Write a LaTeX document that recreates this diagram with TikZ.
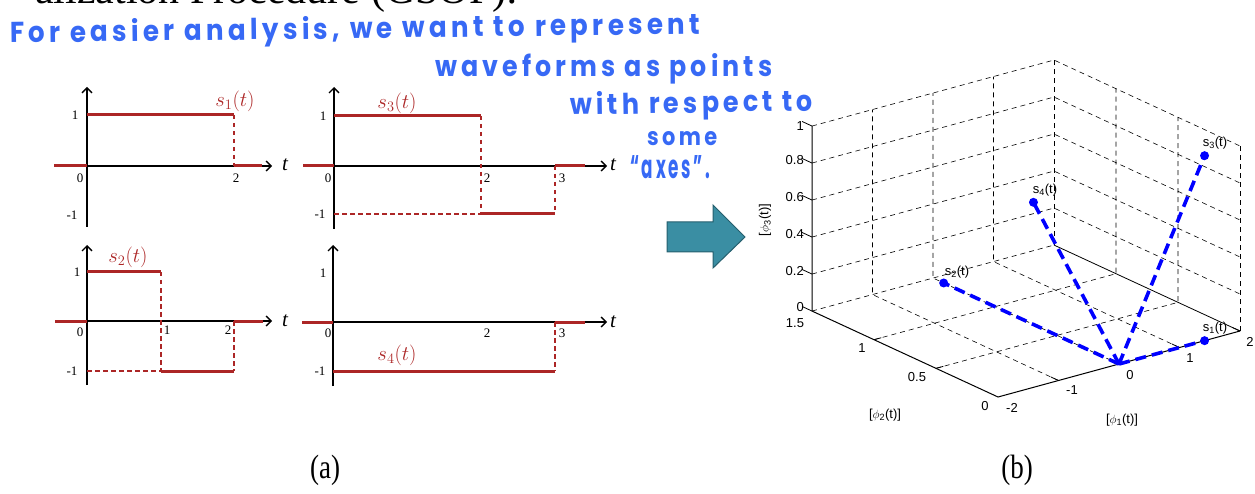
\documentclass[tikz,border=0pt]{standalone}
\usepackage{fontspec}
\setmainfont{Liberation Serif}
\newfontfamily\handfont[LetterSpace=16]{Poppins}
\newfontfamily\plotfont{Liberation Sans}
\usetikzlibrary{arrows.meta}
\definecolor{wred}{RGB}{172,38,38}
\definecolor{hblue}{RGB}{55,105,245}
\definecolor{arrfill}{RGB}{58,142,163}
\definecolor{arrline}{RGB}{38,95,110}
\tikzset{
 sig/.style={draw=wred, line width=3pt},
 sigdash/.style={draw=wred, line width=1.3pt, dash pattern=on 4.5pt off 3.5pt},
 axarrow/.style={line width=1.3pt, -{Straight Barb[length=5pt,width=10pt]}},
 ticklab/.style={font=\fontsize{13}{13}\selectfont, inner sep=0pt},
 siglab/.style={text=wred, font=\fontsize{21}{21}\selectfont, inner sep=0pt},
 tlab/.style={font=\fontsize{21}{21}\selectfont\itshape, inner sep=0pt},
 hand/.style={text=hblue, inner sep=0pt, anchor=base west, font=\handfont\bfseries},
 grid3/.style={line width=0.6pt, dash pattern=on 5pt off 4pt},
 bluevec/.style={blue, line width=3.6pt, dash pattern=on 11pt off 6pt},
 ptdot/.style={circle, fill=blue, inner sep=0pt, minimum size=9pt},
 plab/.style={font=\plotfont\fontsize{13}{13}\selectfont, inner sep=0pt},
 caplab/.style={font=\fontsize{27}{27}\selectfont, inner sep=0pt},
}
\begin{document}
\begin{tikzpicture}[x=1pt,y=-1pt]
\useasboundingbox (0,0) rectangle (1255,494);
\clip (0,0) rectangle (1255,494);
% clipped heading
\node[anchor=base west, inner sep=0pt, font=\fontsize{42}{42}\selectfont] (title) at (35,4) {alization Procedure (GSOP):};
% handwritten note
\node[hand, rotate=0.75] (h1) at (10,43) {\resizebox{690pt}{23pt}{For easier analysis, we want to represent}};
\node[hand] (h2) at (435,77) {\resizebox{337pt}{23pt}{waveforms as points}};
\node[hand, rotate=1.0] (h3) at (570,115) {\resizebox{243pt}{23pt}{with respect to}};
\node[hand] (h4) at (647,146) {\resizebox{70pt}{14pt}{some}};
\node[hand] (h5) at (630,179) {\resizebox{80pt}{23pt}{“axes”.}};

% ---------- s1 ----------
\draw[axarrow] (87,227) -- (87,87);
\draw[axarrow] (87,166) -- (272,166);
\draw[sig] (54,166) -- (87,166);
\draw[sig] (87,115) -- (234,115);
\draw[sig] (234,166) -- (262,166);
\draw[sigdash] (234,115) -- (234,166);
\node[ticklab] (a1y1) at (75,115) {1};
\node[ticklab] (a1y0) at (80,178) {0};
\node[ticklab] (a1x2) at (236,178) {2};
\node[ticklab] (a1ym) at (72,215) {-1};
\node[tlab] (a1t) at (285,165) {t};
\node[siglab] (a1s) at (235,101) {$s_1(t)$};

% ---------- s3 ----------
\draw[axarrow] (334,229) -- (334,87);
\draw[axarrow] (334,166) -- (607,166);
\draw[sig] (303,166) -- (334,166);
\draw[sig] (334,116) -- (481,116);
\draw[sig] (481,214) -- (555,214);
\draw[sig] (555,166) -- (585,166);
\draw[sigdash] (481,116) -- (481,214);
\draw[sigdash] (334,214) -- (481,214);
\draw[sigdash] (555,166) -- (555,214);
\node[ticklab] (a3y1) at (323,116) {1};
\node[ticklab] (a3y0) at (328,178) {0};
\node[ticklab] (a3x2) at (487,178) {2};
\node[ticklab] (a3x3) at (562,178) {3};
\node[ticklab] (a3ym) at (320,214) {-1};
\node[tlab] (a3t) at (613,165) {t};
\node[siglab] (a3s) at (397,103) {$s_3(t)$};

% ---------- s2 ----------
\draw[axarrow] (87,385) -- (87,245);
\draw[axarrow] (87,321) -- (272,321);
\draw[sig] (55,321) -- (87,321);
\draw[sig] (87,272) -- (161,272);
\draw[sig] (161,371) -- (234,371);
\draw[sig] (234,321) -- (263,321);
\draw[sigdash] (161,272) -- (161,371);
\draw[sigdash] (87,371) -- (161,371);
\draw[sigdash] (234,321) -- (234,371);
\node[ticklab] (a2y1) at (77,272) {1};
\node[ticklab] (a2y0) at (80,332) {0};
\node[ticklab] (a2x1) at (167,330) {1};
\node[ticklab] (a2x2) at (228,330) {2};
\node[ticklab] (a2ym) at (72,371) {-1};
\node[tlab] (a2t) at (285,321) {t};
\node[siglab] (a2s) at (128,257) {$s_2(t)$};

% ---------- s4 ----------
\draw[axarrow] (333,386) -- (333,245);
\draw[axarrow] (333,322) -- (607,322);
\draw[sig] (302,322) -- (333,322);
\draw[sig] (333,371) -- (555,371);
\draw[sig] (555,322) -- (585,322);
\draw[sigdash] (555,322) -- (555,371);
\node[ticklab] (a4y1) at (323,273) {1};
\node[ticklab] (a4y0) at (328,333) {0};
\node[ticklab] (a4x2) at (487,333) {2};
\node[ticklab] (a4x3) at (562,333) {3};
\node[ticklab] (a4ym) at (320,371) {-1};
\node[tlab] (a4t) at (613,322) {t};
\node[siglab] (a4s) at (397,355) {$s_4(t)$};

% ---------- block arrow ----------
\draw[fill=arrfill, draw=arrline, line width=1pt] (667,222) -- (713,222) -- (713,205) -- (745,237) -- (713,268) -- (713,252) -- (667,252) -- cycle;

% ---------- 3D plot ----------
\begin{scope}[shift={(1119pt,-364pt)}, x={(60.5pt,16.5pt)}, y={(-124pt,57.3pt)}, z={(0pt,185pt)}]
 \foreach \a in {-1,0,1} \draw[grid3] (\a,0,0) -- (\a,1.5,0) -- (\a,1.5,1);
 \foreach \b in {0.5,1} \draw[grid3] (-2,\b,0) -- (2,\b,0) -- (2,\b,1);
 \draw[grid3] (2,0,0) -- (2,0,1);
 \draw[grid3] (2,1.5,0) -- (2,1.5,1);
 \draw[grid3] (-2,1.5,0) -- (2,1.5,0);
 \foreach \c in {0.2,0.4,0.6,0.8,1} \draw[grid3] (-2,1.5,\c) -- (2,1.5,\c) -- (2,0,\c);
 \draw[line width=0.8pt] (2,1.5,0) -- (2,0,0);
 \draw[line width=1pt] (-2,1.5,1) -- (-2,1.5,0) -- (-2,0,0) -- (2,0,0);
 \foreach \c in {0,0.2,0.4,0.6,0.8,1} \draw[line width=0.8pt] (-2,1.5,\c) -- (-2,1.58,\c);
 \foreach \a in {-1,0,1,2} \draw[line width=0.8pt] (\a,0,0) -- (\a,0.06,0);
 \foreach \b in {0.5,1} \draw[line width=0.8pt] (-2,\b,0) -- (-1.88,\b,0);
 \coordinate (O) at (0,0,0);
 \node[ptdot] (d1) at (1.414,0,0) {};
 \node[ptdot] (d2) at (0,1.414,0) {};
 \node[ptdot] (d3) at (1.414,0,1) {};
 \node[ptdot] (d4) at (-1.414,0,1) {};
 \draw[bluevec] (O) -- (d1.center);
 \draw[bluevec] (O) -- (d2.center);
 \draw[bluevec] (O) -- (d3.center);
 \draw[bluevec] (O) -- (d4.center);
\end{scope}
% z tick labels
\node[plab, anchor=east] (z10) at (804,126) {1};
\node[plab, anchor=east] (z08) at (804,160) {0.8};
\node[plab, anchor=east] (z06) at (804,197) {0.6};
\node[plab, anchor=east] (z04) at (804,234) {0.4};
\node[plab, anchor=east] (z02) at (804,271) {0.2};
\node[plab, anchor=east] (z00) at (804,307) {0};
% phi2 tick labels
\node[plab] (p215) at (795,323) {1.5};
\node[plab] (p210) at (862,348) {1};
\node[plab] (p205) at (917,377) {0.5};
\node[plab] (p200) at (985,406) {0};
% phi1 tick labels
\node[plab] (p1m2) at (1012,408) {-2};
\node[plab] (p1m1) at (1072,390) {-1};
\node[plab] (p10) at (1130,375) {0};
\node[plab] (p11) at (1190,358) {1};
\node[plab] (p12) at (1250,342) {2};
% axis labels
\node[plab] (lab2) at (885,415) {[$\phi$\textsubscript{2}(t)]};
\node[plab] (lab1) at (1122,420) {[$\phi$\textsubscript{1}(t)]};
\node[plab, rotate=90] (lab3) at (765,220) {[$\phi$\textsubscript{3}(t)]};
% point labels
\node[plab] (ls1) at (1215,328) {s\textsubscript{1}(t)};
\node[plab] (ls2) at (957,272) {s\textsubscript{2}(t)};
\node[plab] (ls3) at (1215,143) {s\textsubscript{3}(t)};
\node[plab] (ls4) at (1045,190) {s\textsubscript{4}(t)};

% captions
\node[caplab] (capa) at (325,470) {\scalebox{1}[1.25]{(a)}};
\node[caplab] (capb) at (1017,470) {\scalebox{1}[1.25]{(b)}};
\end{tikzpicture}
\end{document}
